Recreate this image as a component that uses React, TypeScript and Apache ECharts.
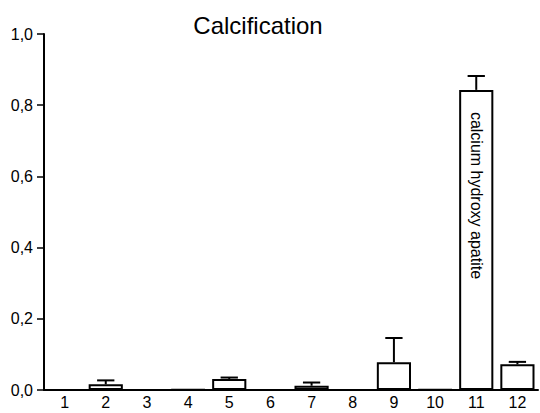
import React, { useEffect, useRef } from "react";
import * as echarts from "echarts";

const categories = ["1", "2", "3", "4", "5", "6", "7", "8", "9", "10", "11", "12"];
const means = [0, 0.016, 0, 0.001, 0.031, 0, 0.012, 0, 0.078, 0.001, 0.843, 0.072];
const errorTops = [0, 0.027, 0, 0.001, 0.035, 0, 0.021, 0, 0.146, 0.001, 0.882, 0.079];
const annotatedIndex = 10;
const annotationText = "calcium hydroxy apatite";
const titleText = "Calcification";

export default function App() {
  const ref = useRef<HTMLDivElement>(null);
  useEffect(() => {
    if (!ref.current) return;
    const chart = echarts.init(ref.current, null, { renderer: "svg" });
    const font = "'Liberation Sans', Arial, sans-serif";
    const barData = means.map((v, i) =>
      i === annotatedIndex
        ? {
            value: v,
            label: {
              show: true,
              position: "insideTop",
              rotate: -90,
              align: "left",
              verticalAlign: "middle",
              distance: 22,
              formatter: annotationText,
              fontFamily: font,
              fontSize: 16,
              color: "#000",
            },
          }
        : v
    );
    const errData = means
      .map((v, i) => [i, v, errorTops[i]])
      .filter((d) => d[2] > d[1]);
    chart.setOption({
      animation: false,
      title: {
        text: titleText,
        left: 253,
        textAlign: "center",
        top: 8,
        textStyle: { fontFamily: font, fontSize: 24, fontWeight: "normal", color: "#000" },
      },
      grid: { left: 44, right: 2, top: 34, bottom: 23 },
      xAxis: {
        type: "category",
        data: categories,
        axisLine: { lineStyle: { color: "#000", width: 2 } },
        axisTick: { alignWithLabel: true, length: 6, lineStyle: { color: "#000", width: 1.5 } },
        axisLabel: { fontFamily: font, fontSize: 16, color: "#000", margin: 4 },
      },
      yAxis: {
        type: "value",
        min: 0,
        max: 1,
        interval: 0.2,
        splitLine: { show: false },
        axisLine: { show: true, lineStyle: { color: "#000", width: 2 } },
        axisTick: { show: true, length: 7, lineStyle: { color: "#000", width: 1.5 } },
        axisLabel: {
          fontFamily: font,
          fontSize: 16,
          color: "#000",
          margin: 11,
          formatter: (v: number) => v.toFixed(1).replace(".", ","),
        },
      },
      series: [
        {
          type: "bar",
          data: barData,
          barWidth: "83%",
          itemStyle: { color: "#fff", borderColor: "#000", borderWidth: 2 },
          z: 2,
        },
        {
          type: "custom",
          data: errData,
          z: 3,
          renderItem: (params: any, api: any) => {
            const i = api.value(0);
            const top = api.coord([i, api.value(1)]);
            const err = api.coord([i, api.value(2)]);
            const bw = api.size([1, 0])[0];
            const half = bw * 0.21;
            return {
              type: "group",
              children: [
                {
                  type: "line",
                  shape: { x1: top[0], y1: top[1], x2: err[0], y2: err[1] },
                  style: { stroke: "#000", lineWidth: 2 },
                },
                {
                  type: "line",
                  shape: { x1: err[0] - half, y1: err[1], x2: err[0] + half, y2: err[1] },
                  style: { stroke: "#000", lineWidth: 2 },
                },
              ],
            };
          },
        },
      ],
    });
    return () => chart.dispose();
  }, []);
  return <div ref={ref} style={{ width: 540, height: 413, position: "absolute", left: 0, top: 0 }} />;
}
